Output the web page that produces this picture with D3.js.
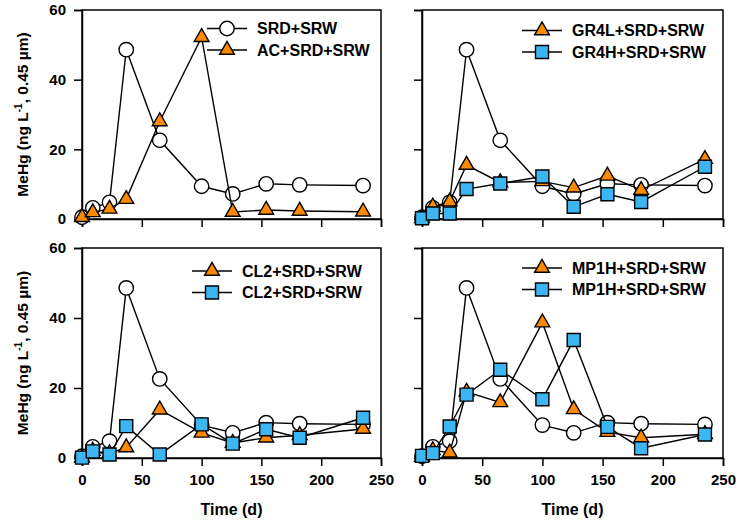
<!DOCTYPE html>
<html>
<head>
<meta charset="utf-8">
<script src="https://cdn.jsdelivr.net/npm/d3@7"></script>
<style>
  body { margin: 0; background: #fff; }
  svg text { font-family: "Liberation Sans", Arial, sans-serif; font-weight: bold; fill: #000; }
</style>
</head>
<body>
<svg id="chart" width="738" height="524"></svg>
<script>
// ---- Data ----
const days = [0, 9, 23, 37, 65, 100, 126, 154, 182, 235];
const srdSrw   = [0.5, 3.2, 4.8, 48.6, 22.6, 9.4, 7.2, 10.1, 9.8, 9.6];
const acSrdSrw = [0.5, 1.9, 2.9, 5.7, 28.0, 52.2, 2.0, 2.6, 2.3, 2.1];
const gr4l     = [0.2, 3.5, 5.0, 15.5, 10.5, 10.8, 9.0, 12.4, 8.3, 17.2];
const gr4h     = [0.2, 1.6, 1.6, 8.6, 10.2, 12.2, 3.5, 7.1, 4.9, 15.0];
const cl2a     = [0.1, 2.0, 1.3, 3.0, 13.8, 7.2, 4.3, 5.8, 6.5, 8.3];
const cl2b     = [0.1, 1.9, 1.0, 9.1, 1.0, 9.6, 4.1, 8.2, 5.8, 11.5];
const mp1a     = [0.3, 2.2, 1.5, 18.9, 15.9, 38.7, 13.9, 7.4, 5.8, 6.8];
const mp1b     = [0.6, 1.4, 9.0, 18.1, 25.2, 16.8, 33.7, 8.9, 2.8, 6.7];
const xTicks = [0, 50, 100, 150, 200, 250];
const yTicks = [0, 20, 40, 60];
const xTitle = "Time (d)";

const ORANGE = "#FF8A00", BLUE = "#3DB5F0";

const panels = [
  { box: [82, 381, 10, 219], xLabels: false, yLabels: true,
    series: [
      { name: "SRD+SRW", vals: srdSrw, shape: "circle", fill: "#fff", legend: true },
      { name: "AC+SRD+SRW", vals: acSrdSrw, shape: "triangle", fill: ORANGE, legend: true }
    ], legend: { x: 207, y: 28.5 } },
  { box: [422, 723, 10, 219], xLabels: false, yLabels: false,
    series: [
      { name: "SRD+SRW", vals: srdSrw, shape: "circle", fill: "#fff", legend: false },
      { name: "GR4L+SRD+SRW", vals: gr4l, shape: "triangle", fill: ORANGE, legend: true },
      { name: "GR4H+SRD+SRW", vals: gr4h, shape: "square", fill: BLUE, legend: true }
    ], legend: { x: 522, y: 30.5 } },
  { box: [82, 381, 248, 458], xLabels: true, yLabels: true,
    series: [
      { name: "SRD+SRW", vals: srdSrw, shape: "circle", fill: "#fff", legend: false },
      { name: "CL2+SRD+SRW", vals: cl2a, shape: "triangle", fill: ORANGE, legend: true },
      { name: "CL2+SRD+SRW", vals: cl2b, shape: "square", fill: BLUE, legend: true }
    ], legend: { x: 192, y: 271 } },
  { box: [422, 723, 248, 458], xLabels: true, yLabels: false,
    series: [
      { name: "SRD+SRW", vals: srdSrw, shape: "circle", fill: "#fff", legend: false },
      { name: "MP1H+SRD+SRW", vals: mp1a, shape: "triangle", fill: ORANGE, legend: true },
      { name: "MP1H+SRD+SRW", vals: mp1b, shape: "square", fill: BLUE, legend: true }
    ], legend: { x: 522, y: 268 } }
];

const svg = d3.select("#chart");

function symbolPath(shape) {
  if (shape === "circle") return d3.symbol(d3.symbolCircle, Math.PI * 7.2 * 7.2)();
  if (shape === "triangle") return d3.symbol(d3.symbolTriangle, 95)();
  return d3.symbol(d3.symbolSquare, 13 * 13)();
}

panels.forEach(p => {
  const [l, r, t, b] = p.box;
  const x = d3.scaleLinear().domain([0, 250]).range([l, r]);
  const y = d3.scaleLinear().domain([0, 60]).range([b, t]);
  const g = svg.append("g");

  // frame
  g.append("rect").attr("x", l).attr("y", t).attr("width", r - l).attr("height", b - t)
    .attr("fill", "none").attr("stroke", "#000").attr("stroke-width", 1.5);

  // axes
  const xa = d3.axisBottom(x).tickValues(xTicks).tickSize(8).tickPadding(8)
    .tickFormat(p.xLabels ? d3.format("d") : () => "");
  const ya = d3.axisLeft(y).tickValues(yTicks).tickSize(8).tickPadding(8)
    .tickFormat(p.yLabels ? d3.format("d") : () => "");
  const gx = g.append("g").attr("transform", `translate(0,${b})`).call(xa);
  const gy = g.append("g").attr("transform", `translate(${l},0)`).call(ya);
  [gx, gy].forEach(a => {
    a.select(".domain").attr("stroke-width", 1.5);
    a.selectAll(".tick line").attr("stroke-width", 1.5);
    a.selectAll("text").attr("font-size", 15).attr("font-family", "Liberation Sans, Arial, sans-serif").attr("font-weight", "bold");
  });

  if (p.xLabels) {
    g.append("text").attr("x", (l + r) / 2).attr("y", b + 57).attr("text-anchor", "middle")
      .attr("font-size", 16).text(xTitle);
  }
  if (p.yLabels) {
    const ty = g.append("text").attr("transform", `translate(28,${(t + b) / 2}) rotate(-90)`)
      .attr("text-anchor", "middle").attr("font-size", 15.5);
    ty.append("tspan").text("MeHg (ng L");
    ty.append("tspan").attr("dy", -6).attr("font-size", 10).text("-1");
    ty.append("tspan").attr("dy", 6).text(", 0.45 \u00b5m)");
  }

  // series
  const line = d3.line().x((d, i) => x(days[i])).y(d => y(d));
  p.series.forEach(s => {
    g.append("path").datum(s.vals).attr("d", line)
      .attr("fill", "none").attr("stroke", "#000").attr("stroke-width", 1.4);
    g.selectAll(null).data(s.vals).enter().append("path")
      .attr("d", symbolPath(s.shape))
      .attr("transform", (d, i) => `translate(${x(days[i])},${y(d)})`)
      .attr("fill", s.fill).attr("stroke", "#000").attr("stroke-width", 1.4);
  });

  // legend
  const ls = p.series.filter(s => s.legend);
  ls.forEach((s, k) => {
    const ly = p.legend.y + k * 21.5;
    const lx = p.legend.x;
    g.append("line").attr("x1", lx).attr("x2", lx + 40).attr("y1", ly).attr("y2", ly)
      .attr("stroke", "#000").attr("stroke-width", 1.4);
    g.append("path").attr("d", symbolPath(s.shape)).attr("transform", `translate(${lx + 20},${ly})`)
      .attr("fill", s.fill).attr("stroke", "#000").attr("stroke-width", 1.4);
    g.append("text").attr("x", lx + 50).attr("y", ly).attr("dy", "0.36em")
      .attr("font-size", 16).text(s.name);
  });
});
</script>
</body>
</html>
